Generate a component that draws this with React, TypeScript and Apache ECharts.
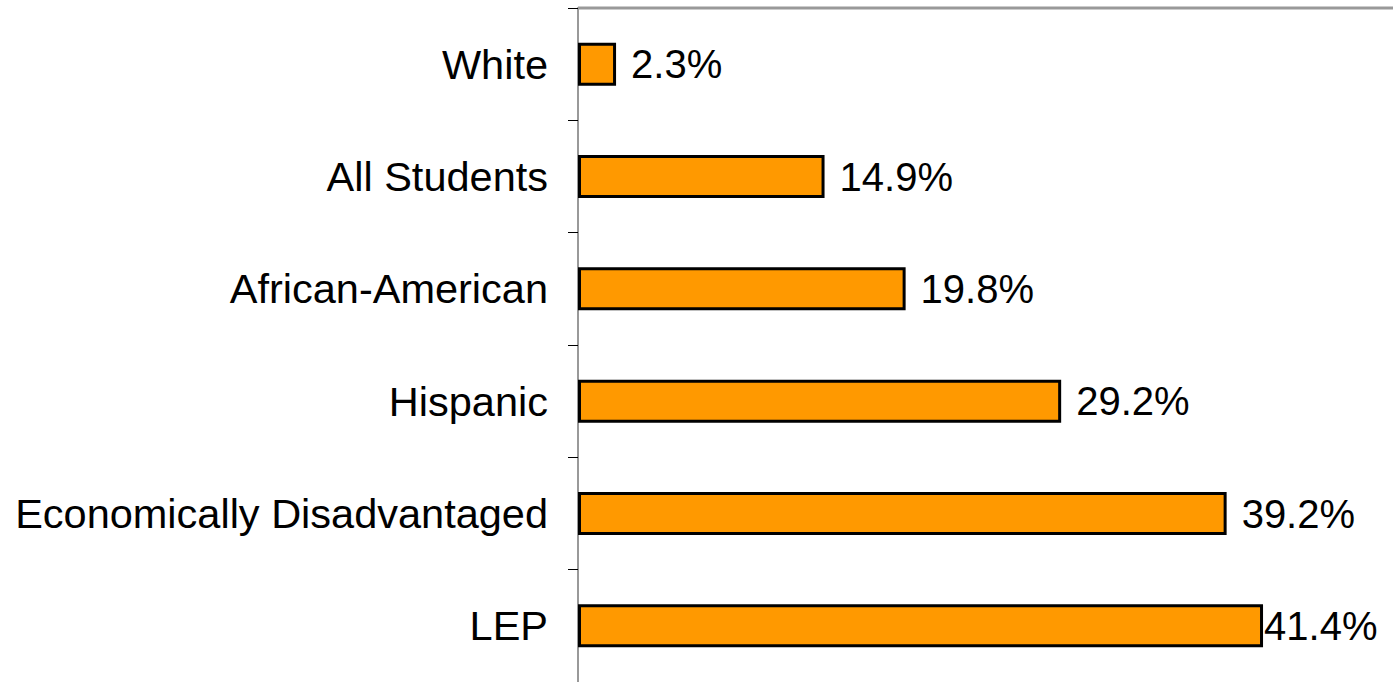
import React, { useEffect, useRef } from "react";
import * as echarts from "echarts";

const categories = ["White", "All Students", "African-American", "Hispanic", "Economically Disadvantaged", "LEP"];
const values = [2.3, 14.9, 19.8, 29.2, 39.2, 41.4];
const labelGaps = [15, 15, 15, 15, 15, 1];

export default function App() {
  const ref = useRef<HTMLDivElement>(null);
  useEffect(() => {
    if (!ref.current) return;
    const chart = echarts.init(ref.current, null, { renderer: "svg" });
    const font = "'Liberation Sans', Arial, sans-serif";
    chart.setOption({
      animation: false,
      backgroundColor: "#ffffff",
      grid: { left: 578, right: 70.4, top: 8, bottom: 0, containLabel: false },
      xAxis: {
        type: "value",
        min: 0,
        max: 45,
        show: false,
      },
      yAxis: {
        type: "category",
        data: categories,
        inverse: true,
        axisLine: { show: true, lineStyle: { color: "#999999", width: 2 } },
        axisTick: { show: true, length: 10, lineStyle: { color: "#000000", width: 1 } },
        axisLabel: { color: "#000000", fontSize: 41.5, fontFamily: font, margin: 30, padding: [0, 0, 8, 0] },
        splitLine: { show: false },
      },
      graphic: [
        {
          type: "line",
          shape: { x1: 578, y1: 8, x2: 1393, y2: 8 },
          style: { stroke: "#999999", lineWidth: 3 },
          z: 10,
        },
      ],
      series: [
        {
          type: "bar",
          barWidth: 43,
          data: values.map((v, i) => ({
            value: v,
            label: { distance: labelGaps[i] },
          })),
          itemStyle: { color: "#FF9900", borderColor: "#000000", borderWidth: 3 },
          label: {
            show: true,
            position: "right",
            color: "#000000",
            fontSize: 40,
            fontFamily: font,
            formatter: (p: any) => p.value.toFixed(1) + "%",
          },
        },
      ],
    });
    return () => chart.dispose();
  }, []);
  return (
    <div
      ref={ref}
      style={{ position: "fixed", left: 0, top: 0, width: 1393, height: 682, background: "#fff" }}
    />
  );
}
